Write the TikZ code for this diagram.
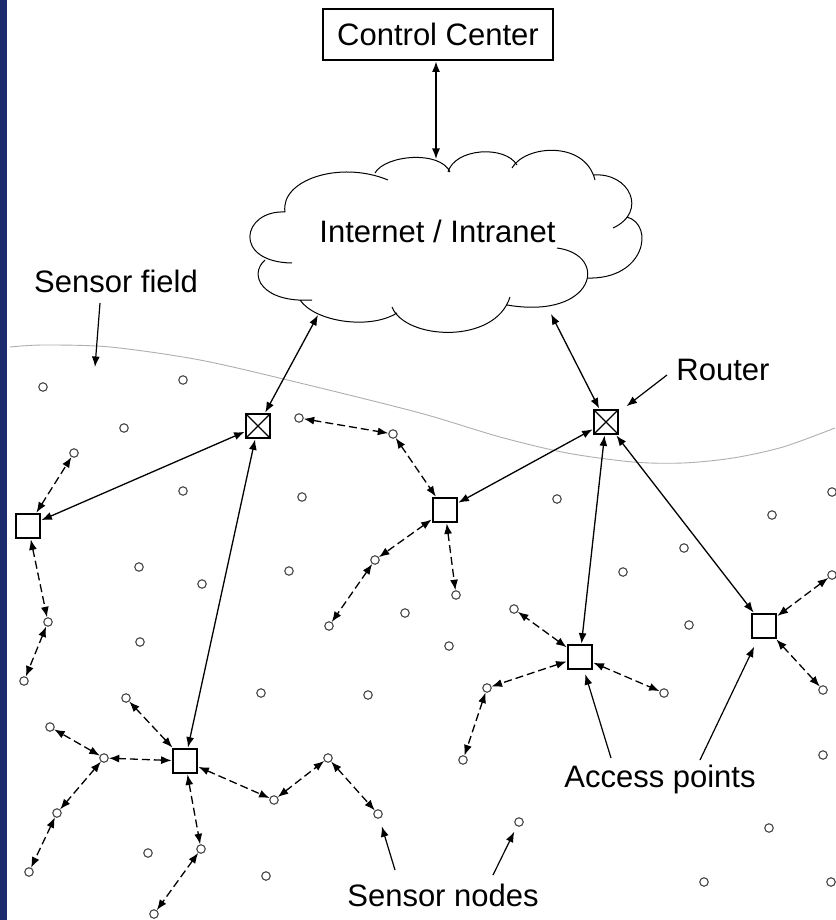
\documentclass[tikz,border=0pt]{standalone}
\usepackage{fontspec}
\setmainfont{Liberation Sans}
\usetikzlibrary{arrows.meta}
\definecolor{stripblue}{RGB}{28,42,110}
\definecolor{fieldgray}{RGB}{175,175,175}
\definecolor{nodegray}{RGB}{70,70,70}
\begin{document}
\begin{tikzpicture}[x=1pt,y=-1pt,
  lbl/.style={font=\fontsize{31}{36}\selectfont, inner sep=0pt},
  ap/.style={draw, line width=2.3pt, minimum size=24.5pt, inner sep=0pt},
  rt/.style={ap, path picture={\draw[line width=1.3pt] (path picture bounding box.north west) -- (path picture bounding box.south east) (path picture bounding box.north east) -- (path picture bounding box.south west);}},
  sn/.style={circle, draw=nodegray, line width=1.1pt, minimum size=8.5pt, inner sep=0pt},
  link/.style={{Latex[length=10.5pt,width=8pt]}-{Latex[length=10.5pt,width=8pt]}, line width=1.3pt},
  dlink/.style={link, dash pattern=on 8pt off 4pt},
  pointer/.style={-{Latex[length=10.5pt,width=8pt]}, line width=1.2pt},
]
\useasboundingbox (0,0) rectangle (835,920);
\fill[white] (0,0) rectangle (835,920);
\fill[stripblue] (0,0) rectangle (7,920);

% sensor field boundary
\draw[fieldgray, line width=0.9pt] plot[smooth] coordinates {(10,347) (43,345) (110,347) (200,360) (300,383) (420,413) (500,437) (567,453) (633,462) (683,463) (733,458) (783,447) (835,428)};

% cloud
\draw[line width=1pt]
 (285,212) .. controls (242,210) and (232,262) .. (292,263)
 (265,260) .. controls (248,275) and (262,303) .. (312,300)
 (300,300) .. controls (315,322) and (370,330) .. (397,313)
 (392,307) .. controls (405,340) and (495,345) .. (510,297)
 (557,248) .. controls (610,255) and (595,320) .. (507,305)
 (627,217) .. controls (655,225) and (645,280) .. (587,278)
 (593,175) .. controls (630,172) and (648,212) .. (613,228)
 (512,168) .. controls (525,145) and (585,140) .. (595,180)
 (448,172) .. controls (455,148) and (505,145) .. (517,165)
 (375,173) .. controls (385,155) and (440,150) .. (450,172)
 (285,212) .. controls (280,180) and (340,160) .. (388,180);
\node[lbl, anchor=base] (inet) at (437.5,242) {Internet / Intranet};

% control center
\node[draw, line width=2pt, minimum width=230pt, minimum height=51pt, lbl, text height=22pt, text depth=0pt] (cc) at (438,35) {Control Center};

% routers and access points
\node[rt] (r1) at (258,426) {};
\node[rt] (r2) at (606,422) {};
\node[ap] (ap1) at (28,526) {};
\node[ap] (ap2) at (445,510) {};
\node[ap] (ap3) at (580,657) {};
\node[ap] (ap4) at (185,761) {};
\node[ap] (ap5) at (764,626) {};

% sensor nodes
\foreach \n/\x/\y in {s1/43/387, s2/183/380, s3/124/428, s4/74/453, s5/183/491, s6/302/497, s7/299/418, s8/393/434, s9/139/567, s10/202/584, s11/289/571, s12/375/560, s13/405/613, s14/48/622, s15/24/681, s16/140/642, s17/329/626, s18/261/693, s19/368/695, s20/126/698, s21/50/727, s22/104/758, s23/57/813, s24/29/872, s25/148/853, s26/201/849, s27/154/914, s28/274/800, s29/328/758, s30/378/814, s31/266/876, s32/557/499, s33/684/548, s34/623/572, s35/772/515, s36/832/492, s37/832/575, s38/689/625, s39/456/595, s40/514/609, s41/449/646, s42/487/688, s43/463/760, s44/664/693, s45/519/822, s46/823/690, s47/823/755, s48/769/828, s49/704/882, s50/831/882}
  \node[sn] (\n) at (\x,\y) {};

% solid links
\coordinate (ctop) at (436,159);
\coordinate (cl) at (318,315);
\coordinate (cr) at (551,314);
\draw[link] (ctop |- cc.south) -- (ctop);
\draw[link] (cl) -- (r1);
\draw[link] (cr) -- (r2);
\draw[link] (r1) -- (ap1);
\draw[link] (r1) -- (ap4);
\draw[link] (r2) -- (ap2);
\draw[link] (r2) -- (ap3);
\draw[link] (r2) -- (ap5);

% dashed links
\foreach \a/\b in {ap1/s4, ap1/s14, s14/s15, s7/s8, s8/ap2, ap2/s12, s12/s17, ap2/s39, ap3/s40, ap3/s42, s42/s43, ap3/s44, ap5/s37, ap5/s46, ap4/s20, ap4/s22, s22/s21, s22/s23, s23/s24, ap4/s26, s26/s27, ap4/s28, s28/s29, s29/s30}
  \draw[dlink] (\a) -- (\b);

% labels
\node[lbl, anchor=base] (sflab) at (116,292) {Sensor field};
\node[lbl, anchor=base] (rlab) at (723,380) {Router};
\node[lbl, anchor=base] (aplab) at (660,787) {Access points};
\node[lbl, anchor=base] (snlab) at (443,906) {Sensor nodes};

\coordinate (sftail) at (100,303);
\coordinate (sfhead) at (95,367);
\draw[pointer] (sftail) -- (sfhead);
\coordinate (rtail) at (667,375);
\draw[pointer, shorten >=9pt] (rtail) -- (r2);
\coordinate (aptail1) at (611,758);
\draw[pointer, shorten >=4pt] (aptail1) -- (ap3);
\coordinate (aptail2) at (700,760);
\draw[pointer, shorten >=8pt] (aptail2) -- (ap5);
\coordinate (sntail1) at (395,870);
\draw[pointer, shorten >=8pt] (sntail1) -- (s30);
\coordinate (sntail2) at (493,875);
\draw[pointer, shorten >=6pt] (sntail2) -- (s45);
\end{tikzpicture}
\end{document}
